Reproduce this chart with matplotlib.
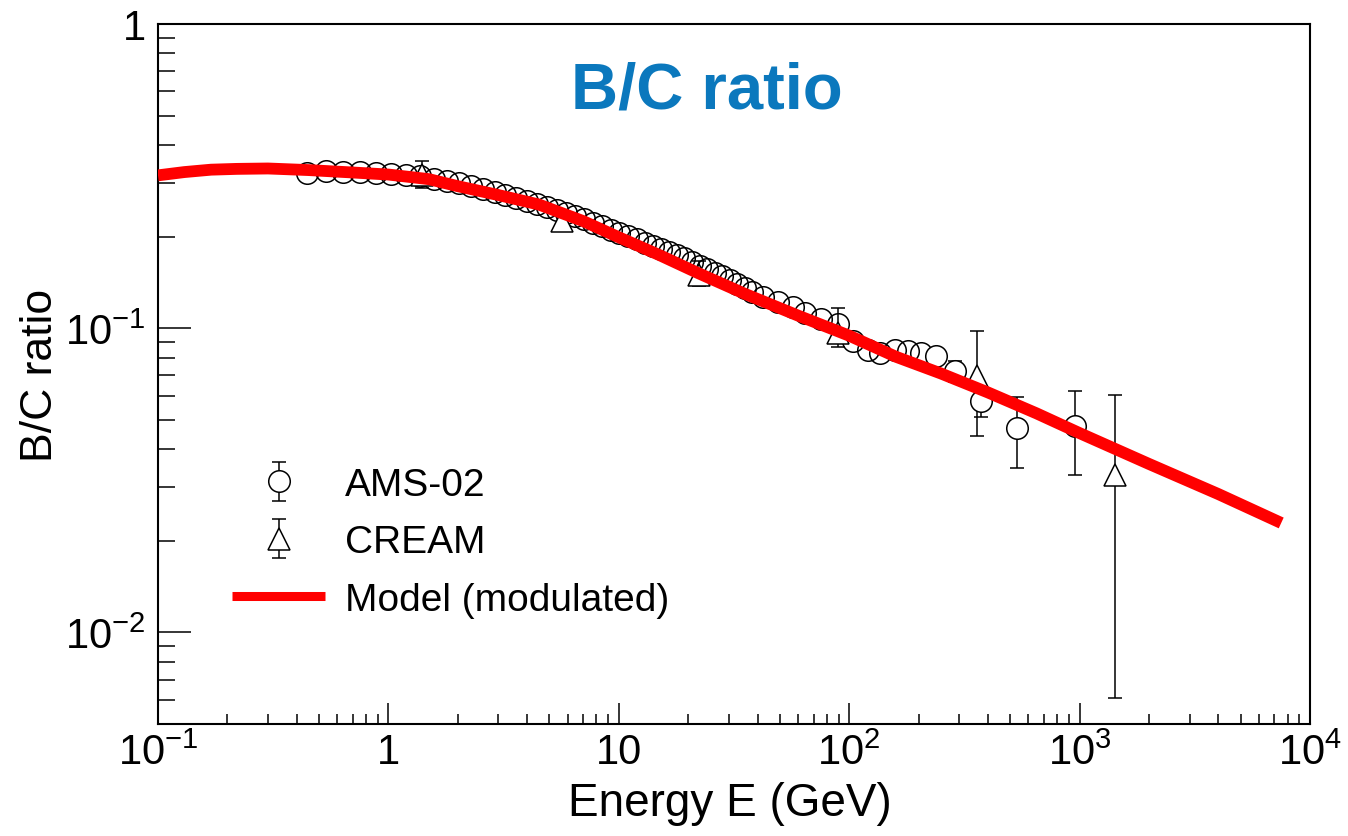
import matplotlib
matplotlib.use("Agg")
import matplotlib.pyplot as plt
from matplotlib.ticker import FixedLocator, FixedFormatter, LogLocator, NullFormatter
from matplotlib.lines import Line2D
import numpy as np

plt.rcParams['font.family'] = ['Liberation Sans', 'DejaVu Sans']
plt.rcParams['mathtext.fontset'] = 'custom'
plt.rcParams['mathtext.rm'] = 'Liberation Sans'
plt.rcParams['mathtext.it'] = 'Liberation Sans:italic'
plt.rcParams['mathtext.bf'] = 'Liberation Sans:bold'

# ---------------- data ----------------
ams_E = [0.444, 0.534, 0.637, 0.755, 0.887, 1.03, 1.19, 1.37, 1.57, 1.79, 2.03, 2.29,
         2.58, 2.89, 3.22, 3.59, 3.99, 4.40, 4.89, 5.38, 5.88, 6.47, 7.07, 7.76, 8.46,
         9.26, 10.05, 10.95, 11.95, 12.94, 14.04, 15.24, 16.49, 17.83, 19.28, 20.83,
         22.48, 24.23, 26.13, 28.18, 30.33, 32.67, 35.22, 37.87, 42.3, 49.0, 57.0,
         64.5, 75.7, 89.6, 104, 121, 136, 158, 180, 205, 238, 288, 373, 534, 951]
ams_R = [0.323, 0.328, 0.326, 0.325, 0.323, 0.322, 0.320, 0.316, 0.310, 0.305, 0.300, 0.294,
         0.287, 0.280, 0.274, 0.268, 0.262, 0.257, 0.251, 0.245, 0.240, 0.234, 0.228, 0.222,
         0.217, 0.211, 0.206, 0.201, 0.196, 0.191, 0.187, 0.182, 0.178, 0.174, 0.170, 0.165,
         0.160, 0.156, 0.152, 0.148, 0.144, 0.140, 0.136, 0.132, 0.127, 0.122, 0.117,
         0.112, 0.107, 0.103, 0.0910, 0.0850, 0.0830, 0.0850, 0.0843, 0.0830, 0.0812,
         0.0724, 0.0577, 0.0470, 0.0478]
# error bars (0 = hidden inside the marker)
ams_err_lo = [0] * 56 + [0.003, 0.0057, 0.0066, 0.0123, 0.0149]
ams_err_hi = [0] * 56 + [0.003, 0.0057, 0.0060, 0.0125, 0.0144]

cream_E = [1.40, 5.67, 22.2, 89.6, 358, 1418]
cream_R = [0.318, 0.225, 0.150, 0.0966, 0.0698, 0.0329]
cream_err_lo = [0.028, 0.012, 0.012, 0.0097, 0.0256, 0.0268]
cream_err_hi = [0.036, 0.010, 0.016, 0.0202, 0.0280, 0.0275]

model_E = [0.1, 0.13, 0.17, 0.22, 0.3, 0.45, 0.7, 1.0, 1.5, 2.0, 3.0, 4.5, 7.0, 10, 15,
           22, 35, 60, 100, 160, 250, 400, 650, 1000, 2000, 4000, 7500]
model_R = [0.318, 0.326, 0.332, 0.334, 0.335, 0.331, 0.325, 0.320, 0.309, 0.293, 0.274,
           0.255, 0.225, 0.199, 0.174, 0.152, 0.130, 0.110, 0.0945, 0.0805, 0.0710,
           0.0615, 0.0525, 0.0452, 0.0358, 0.0285, 0.0229]

xtick_vals = [0.1, 1, 10, 100, 1000, 10000]
xtick_labels = [r'$10^{-1}$', '1', '10', r'$10^{2}$', r'$10^{3}$', r'$10^{4}$']
ytick_vals = [0.01, 0.1, 1]
ytick_labels = [r'$10^{-2}$', r'$10^{-1}$', '1']

title_color = '#0b78bd'

# ---------------- figure ----------------
W, H = 1348, 837
fig = plt.figure(figsize=(W / 100, H / 100), dpi=100)
ax = fig.add_axes([158 / W, 1 - 725 / H, (1310 - 158) / W, (725 - 25) / H])
ax.set_xscale('log')
ax.set_yscale('log')
ax.set_xlim(0.1, 1e4)
ax.set_ylim(0.005, 1.0)

ams_E_a = np.array(ams_E)
ams_R_a = np.array(ams_R)
lo = np.array(ams_err_lo)
hi = np.array(ams_err_hi)
has_err = (lo > 0) | (hi > 0)

# dense AMS points (errors hidden inside markers)
ax.plot(ams_E_a[~has_err], ams_R_a[~has_err], ls='none', marker='o', ms=15.5,
        mfc='none', mec='black', mew=1.1, zorder=3)
# AMS points with visible error bars
ams_eb = ax.errorbar(ams_E_a[has_err], ams_R_a[has_err], yerr=[lo[has_err], hi[has_err]],
                     fmt='o', ms=15.5, mfc='white', mec='black', mew=1.1, ecolor='black',
                     elinewidth=1.1, capsize=5, capthick=1.1, zorder=3, label='AMS-02')
cream_eb = ax.errorbar(cream_E, cream_R, yerr=[cream_err_lo, cream_err_hi],
                       fmt='^', ms=15.5, mfc='white', mec='black', mew=1.1, ecolor='black',
                       elinewidth=1.1, capsize=5, capthick=1.1, zorder=3, label='CREAM')
ax.plot(model_E, model_R, color='#ff0000', lw=8.5, solid_capstyle='butt', zorder=5)

# axes styling
for s in ax.spines.values():
    s.set_linewidth(1.5)
ax.xaxis.set_major_locator(FixedLocator(xtick_vals))
ax.xaxis.set_major_formatter(FixedFormatter(xtick_labels))
ax.yaxis.set_major_locator(FixedLocator(ytick_vals))
ax.yaxis.set_major_formatter(FixedFormatter(ytick_labels))
ax.xaxis.set_minor_locator(LogLocator(base=10, subs=np.arange(2, 10), numticks=50))
ax.yaxis.set_minor_locator(LogLocator(base=10, subs=np.arange(2, 10), numticks=50))
ax.xaxis.set_minor_formatter(NullFormatter())
ax.yaxis.set_minor_formatter(NullFormatter())
ax.tick_params(axis='both', which='both', direction='in', top=False, right=False,
               width=1.1, labelsize=30)
ax.tick_params(axis='x', which='major', length=15, pad=6)
ax.tick_params(axis='x', which='minor', length=7.5)
ax.tick_params(axis='y', which='major', length=24, pad=9)
ax.tick_params(axis='y', which='minor', length=12)

# labels
fig.text(730 / W, 1 - 804 / H, 'Energy E (GeV)', ha='center', va='center', fontsize=33)
fig.text(41 / W, 1 - 375 / H, 'B/C ratio', ha='center', va='center', rotation=90, fontsize=32)
fig.text(707 / W, 1 - 92 / H, 'B/C ratio', ha='center', va='center', fontsize=47,
         fontweight='bold', color=title_color)

# legend
model_handle = Line2D([], [], color='#ff0000', lw=6.5, solid_capstyle='butt')
ax.legend([ams_eb, cream_eb, model_handle], ['AMS-02', 'CREAM', 'Model (modulated)'],
          loc='upper left', bbox_to_anchor=(232 / W, 1 - 468 / H),
          bbox_transform=fig.transFigure, frameon=False, fontsize=28,
          handlelength=2.4, handletextpad=0.5, labelspacing=0.55, borderpad=0,
          borderaxespad=0)

fig.savefig('out.png', dpi=100)
